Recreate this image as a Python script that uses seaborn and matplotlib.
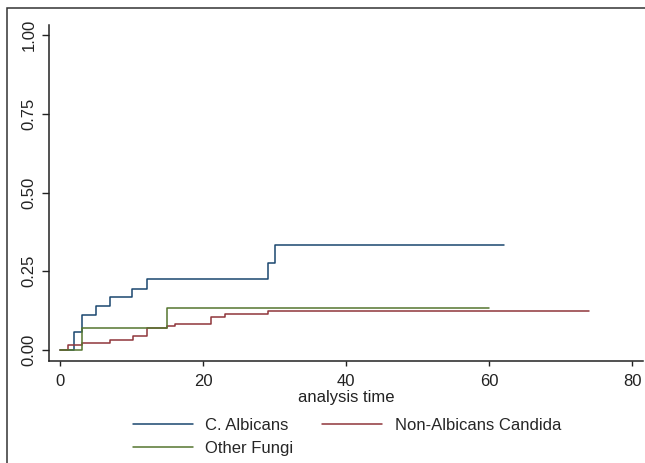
import pandas as pd
import matplotlib
matplotlib.use("Agg")
import matplotlib.pyplot as plt
import seaborn as sns
from matplotlib.patches import Rectangle

# step curves (time, cumulative value)
albicans_t = [0, 2.0, 3.1, 5.0, 7.0, 10.1, 12.1, 29.1, 30.0, 62]
albicans_v = [0, 0.056, 0.111, 0.139, 0.167, 0.195, 0.224, 0.276, 0.333, 0.333]

non_albicans_t = [0, 1.05, 3.1, 7.0, 10.2, 12.1, 15.0, 16.1, 21.1, 23.0, 29.1, 74]
non_albicans_v = [0, 0.017, 0.023, 0.033, 0.044, 0.069, 0.077, 0.083, 0.106, 0.113, 0.125, 0.125]

other_t = [0, 3.1, 15.0, 60]
other_v = [0, 0.069, 0.133, 0.133]

groups = ["C. Albicans", "Non-Albicans Candida", "Other Fungi"]
colors = ["#1a476f", "#90353b", "#55752f"]
x_ticks = [0, 20, 40, 60, 80]
y_ticks = [0.00, 0.25, 0.50, 0.75, 1.00]

df = pd.concat([
    pd.DataFrame({"time": albicans_t, "value": albicans_v, "group": groups[0]}),
    pd.DataFrame({"time": non_albicans_t, "value": non_albicans_v, "group": groups[1]}),
    pd.DataFrame({"time": other_t, "value": other_v, "group": groups[2]}),
])

sns.set_style("ticks")
plt.rcParams["font.family"] = ["Liberation Sans", "DejaVu Sans"]
fs = 12

fig = plt.figure(figsize=(6.45, 4.63), dpi=100)
ax = fig.add_axes([49 / 645, 1 - 361 / 463, (643 - 49) / 645, (361 - 25) / 463])

sns.lineplot(data=df, x="time", y="value", hue="group", hue_order=groups,
             palette=colors, drawstyle="steps-post", estimator=None, sort=False,
             linewidth=1.1, ax=ax)

ax.set_xlim(-1.55, 81.5)
ax.set_ylim(-0.035, 1.032)
ax.set_xticks(x_ticks)
ax.set_yticks(y_ticks)
ax.set_yticklabels([f"{v:.2f}" for v in y_ticks], rotation=90, va="center")
ax.tick_params(axis="x", length=3.3, width=1, pad=6, colors="#222222", labelsize=fs)
ax.tick_params(axis="y", length=5, width=1, pad=4, colors="#222222", labelsize=fs)
ax.set_xlabel("analysis time", labelpad=0.5, fontsize=fs, color="#222222")
ax.set_ylabel("")
sns.despine(ax=ax)
for s in ["left", "bottom"]:
    ax.spines[s].set_linewidth(1.1)
    ax.spines[s].set_color("#222222")

handles, labels = ax.get_legend_handles_labels()
ax.get_legend().remove()
order = [0, 2, 1]
fig.legend([handles[i] for i in order], [labels[i] for i in order],
           loc="center", bbox_to_anchor=(0.538, 1 - 437 / 463), ncol=2,
           frameon=False, handlelength=3.6, handletextpad=0.75,
           columnspacing=1.75, labelspacing=0.5, fontsize=fs)

# outer border of the exported graph
fig.patches.append(Rectangle((6.5 / 645, -0.05), 1.0, 1 + 0.05 - 8 / 463,
                             transform=fig.transFigure, fill=False,
                             edgecolor="#333333", linewidth=1.1))

fig.savefig("out.png", dpi=100)
